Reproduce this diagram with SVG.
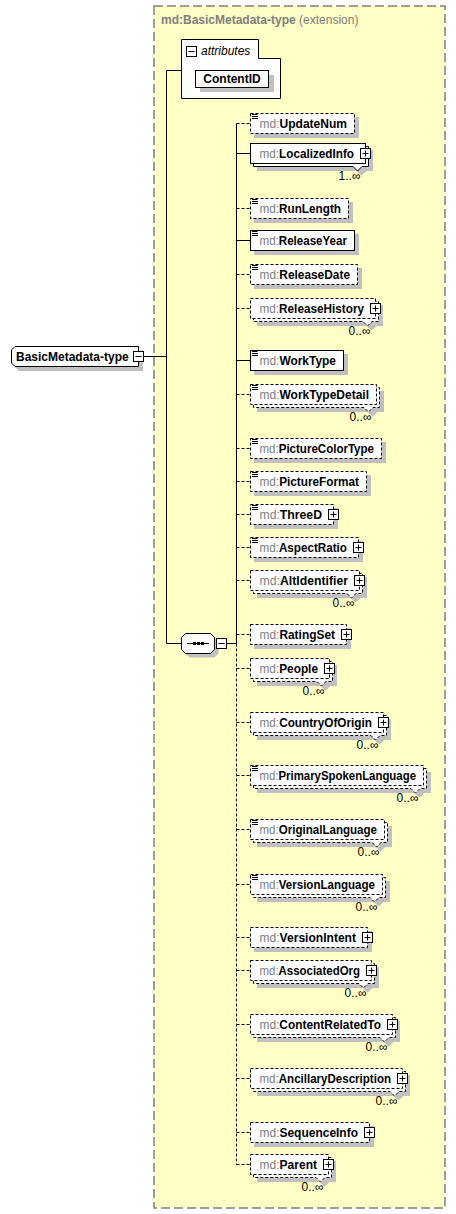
<svg xmlns="http://www.w3.org/2000/svg" xmlns:xlink="http://www.w3.org/1999/xlink" width="456" height="1214" viewBox="0 0 456 1214">
<style>
text{font-family:"Liberation Sans",Arial,sans-serif;font-size:12px;fill:#000}
.bx{fill:#fff;stroke:#000;stroke-width:1}
.d{stroke-dasharray:3 2}
.sh{fill:#c0c0c0;stroke:none}
.ns{fill:#808080}
.nm{font-weight:bold;fill:#000}
.cn path{stroke:#000;stroke-width:1;fill:none}
.cn .cd{stroke-dasharray:3 2}
.mu{text-anchor:end}
</style>
<defs>
<g id="ic"><path d="M1.5 1H7M1.5 3H7.5M1.5 5H7.5" stroke="#000" stroke-width="1" fill="none"/></g>
<g id="pl"><rect x="-5" y="-5" width="10" height="10" fill="#fff" stroke="#000"/><path d="M-3 0H3M0 -3V3" stroke="#000"/></g>
<g id="mi"><rect x="-5" y="-5" width="10" height="10" fill="#fff" stroke="#000"/><path d="M-3 0H3" stroke="#000"/></g>
</defs>

<g id="container">
<rect x="154" y="6" width="291" height="1202" fill="#ffffc6" stroke="#808080" stroke-width="1.5" stroke-dasharray="9 4"/>
<text x="161" y="24" style="fill:#808080"><tspan font-weight="bold">md:BasicMetadata-type</tspan> (extension)</text>
</g>

<g id="connectors" class="cn">
<path d="M143.5 356.5H166.5"/>
<path d="M166.5 70.5V643.5M166.5 70.5H181.5M166.5 643.5H181.5"/>
<path d="M226.5 643.5H236.5"/>
<path d="M236.5 123.5V643.5"/>
<path class="cd" d="M236.5 643.5V1164.5"/>
<path d="M236.5 153.5H250.5M236.5 240.5H250.5M236.5 360.5H250.5"/>
<path class="cd" d="M236.5 123.5H250.5M236.5 208.5H250.5M236.5 274.5H250.5M236.5 308.5H250.5M236.5 394.5H250.5M236.5 448.5H250.5M236.5 481.5H250.5M236.5 514.5H250.5M236.5 547.5H250.5M236.5 580.5H250.5M236.5 634.5H250.5M236.5 668.5H250.5M236.5 722.5H250.5M236.5 775.5H250.5M236.5 829.5H250.5M236.5 884.5H250.5M236.5 937.5H250.5M236.5 970.5H250.5M236.5 1024.5H250.5M236.5 1078.5H250.5M236.5 1132.5H250.5M236.5 1164.5H250.5"/>
</g>

<g id="root">
<polygon class="sh" points="19,350.5 143,350.5 143,371 19,371 15.5,367.5 15.5,354"/>
<polygon class="bx" points="15,346.5 138.5,346.5 138.5,366.5 15,366.5 11.5,363 11.5,350"/>
<text x="16" y="361" class="nm">BasicMetadata-type</text>
<use href="#mi" x="138.5" y="356.5"/>
</g>

<g id="attributes">
<polygon points="181.5,39.5 258.5,39.5 258.5,58.5 280.5,58.5 280.5,98.5 181.5,98.5" fill="#fff" stroke="#000"/>
<use href="#mi" x="191.5" y="51.5"/>
<text x="201" y="55" font-style="italic">attributes</text>
</g>

<g id="ContentID">
<rect class="sh" x="200" y="75" width="74" height="17"/>
<rect class="bx" x="195.5" y="70.5" width="73" height="17"/>
<text x="232" y="83" class="nm" text-anchor="middle">ContentID</text>
</g>

<g id="sequence">
<polygon class="sh" points="189.5,637.5 214.5,637.5 218.5,641.5 218.5,653.5 214.5,657.5 189.5,657.5 185.5,653.5 185.5,641.5"/>
<polygon class="bx" points="185.5,633.5 210.5,633.5 214.5,637.5 214.5,649.5 210.5,653.5 185.5,653.5 181.5,649.5 181.5,637.5"/>
<path d="M187 643.5H209" stroke="#000"/>
<rect x="193" y="642" width="3" height="3"/><rect x="197" y="642" width="3" height="3"/><rect x="201" y="642" width="3" height="3"/>
<use href="#mi" x="221.5" y="643.5"/>
</g>

<g id="UpdateNum" transform="translate(0 123.5)">
<rect class="sh" x="254" y="-6.5" width="105" height="21"/>
<rect class="bx d" x="250.5" y="-10" width="104" height="20"/>
<use href="#ic" x="250.5" y="-10"/>
<text x="259.5" y="4.5" textLength="87.5" lengthAdjust="spacingAndGlyphs"><tspan class="ns">md:</tspan><tspan class="nm">UpdateNum</tspan></text>
</g>

<g id="LocalizedInfo" transform="translate(0 153.5)">
<path class="sh" d="M257,-3.5H373V17.5H366.5L361.5,22L356.5,17.5H257Z"/>
<path class="bx" d="M253.5,-7H368.5V13H362L357.5,17.5L353,13H253.5Z"/>
<rect class="bx" x="250.5" y="-10" width="115" height="20"/>
<text x="259.5" y="4.5" textLength="94.5" lengthAdjust="spacingAndGlyphs"><tspan class="ns">md:</tspan><tspan class="nm">LocalizedInfo</tspan></text>
<use href="#pl" x="365.5" y="0"/>
<text class="mu" x="360.5" y="26.5">1..∞</text>
</g>

<g id="RunLength" transform="translate(0 208.5)">
<rect class="sh" x="254" y="-6.5" width="99" height="21"/>
<rect class="bx d" x="250.5" y="-10" width="98" height="20"/>
<use href="#ic" x="250.5" y="-10"/>
<text x="259.5" y="4.5" textLength="81.5" lengthAdjust="spacingAndGlyphs"><tspan class="ns">md:</tspan><tspan class="nm">RunLength</tspan></text>
</g>

<g id="ReleaseYear" transform="translate(0 240.5)">
<rect class="sh" x="254" y="-6.5" width="105" height="21"/>
<rect class="bx" x="250.5" y="-10" width="104" height="20"/>
<use href="#ic" x="250.5" y="-10"/>
<text x="259.5" y="4.5" textLength="87.5" lengthAdjust="spacingAndGlyphs"><tspan class="ns">md:</tspan><tspan class="nm">ReleaseYear</tspan></text>
</g>

<g id="ReleaseDate" transform="translate(0 274.5)">
<rect class="sh" x="254" y="-6.5" width="108" height="21"/>
<rect class="bx d" x="250.5" y="-10" width="107" height="20"/>
<use href="#ic" x="250.5" y="-10"/>
<text x="259.5" y="4.5" textLength="90.5" lengthAdjust="spacingAndGlyphs"><tspan class="ns">md:</tspan><tspan class="nm">ReleaseDate</tspan></text>
</g>

<g id="ReleaseHistory" transform="translate(0 308.5)">
<path class="sh" d="M257,-3.5H383V17.5H376.5L371.5,22L366.5,17.5H257Z"/>
<path class="bx d" d="M253.5,-7H378.5V13H372L367.5,17.5L363,13H253.5Z"/>
<rect class="bx d" x="250.5" y="-10" width="125" height="20"/>
<text x="259.5" y="4.5" textLength="104.5" lengthAdjust="spacingAndGlyphs"><tspan class="ns">md:</tspan><tspan class="nm">ReleaseHistory</tspan></text>
<use href="#pl" x="375.5" y="0"/>
<text class="mu" x="370.5" y="26.5">0..∞</text>
</g>

<g id="WorkType" transform="translate(0 360.5)">
<rect class="sh" x="254" y="-6.5" width="94" height="21"/>
<rect class="bx" x="250.5" y="-10" width="93" height="20"/>
<use href="#ic" x="250.5" y="-10"/>
<text x="259.5" y="4.5" textLength="76.5" lengthAdjust="spacingAndGlyphs"><tspan class="ns">md:</tspan><tspan class="nm">WorkType</tspan></text>
</g>

<g id="WorkTypeDetail" transform="translate(0 394.5)">
<path class="sh" d="M257,-3.5H384V17.5H377.5L372.5,22L367.5,17.5H257Z"/>
<path class="bx d" d="M253.5,-7H379.5V13H373L368.5,17.5L364,13H253.5Z"/>
<rect class="bx d" x="250.5" y="-10" width="126" height="20"/>
<use href="#ic" x="250.5" y="-10"/>
<text x="259.5" y="4.5" textLength="109.5" lengthAdjust="spacingAndGlyphs"><tspan class="ns">md:</tspan><tspan class="nm">WorkTypeDetail</tspan></text>
<text class="mu" x="371.5" y="26.5">0..∞</text>
</g>

<g id="PictureColorType" transform="translate(0 448.5)">
<rect class="sh" x="254" y="-6.5" width="132" height="21"/>
<rect class="bx d" x="250.5" y="-10" width="131" height="20"/>
<use href="#ic" x="250.5" y="-10"/>
<text x="259.5" y="4.5" textLength="114.5" lengthAdjust="spacingAndGlyphs"><tspan class="ns">md:</tspan><tspan class="nm">PictureColorType</tspan></text>
</g>

<g id="PictureFormat" transform="translate(0 481.5)">
<rect class="sh" x="254" y="-6.5" width="117" height="21"/>
<rect class="bx d" x="250.5" y="-10" width="116" height="20"/>
<use href="#ic" x="250.5" y="-10"/>
<text x="259.5" y="4.5" textLength="99.5" lengthAdjust="spacingAndGlyphs"><tspan class="ns">md:</tspan><tspan class="nm">PictureFormat</tspan></text>
</g>

<g id="ThreeD" transform="translate(0 514.5)">
<rect class="sh" x="254" y="-6.5" width="84" height="21"/>
<rect class="bx d" x="250.5" y="-10" width="83" height="20"/>
<use href="#ic" x="250.5" y="-10"/>
<text x="259.5" y="4.5" textLength="62.5" lengthAdjust="spacingAndGlyphs"><tspan class="ns">md:</tspan><tspan class="nm">ThreeD</tspan></text>
<use href="#pl" x="333.5" y="0"/>
</g>

<g id="AspectRatio" transform="translate(0 547.5)">
<rect class="sh" x="254" y="-6.5" width="109" height="21"/>
<rect class="bx d" x="250.5" y="-10" width="108" height="20"/>
<use href="#ic" x="250.5" y="-10"/>
<text x="259.5" y="4.5" textLength="87.5" lengthAdjust="spacingAndGlyphs"><tspan class="ns">md:</tspan><tspan class="nm">AspectRatio</tspan></text>
<use href="#pl" x="358.5" y="0"/>
</g>

<g id="AltIdentifier" transform="translate(0 580.5)">
<path class="sh" d="M257,-3.5H367V17.5H360.5L355.5,22L350.5,17.5H257Z"/>
<path class="bx d" d="M253.5,-7H362.5V13H356L351.5,17.5L347,13H253.5Z"/>
<rect class="bx d" x="250.5" y="-10" width="109" height="20"/>
<text x="259.5" y="4.5" textLength="88.5" lengthAdjust="spacingAndGlyphs"><tspan class="ns">md:</tspan><tspan class="nm">AltIdentifier</tspan></text>
<use href="#pl" x="359.5" y="0"/>
<text class="mu" x="354.5" y="26.5">0..∞</text>
</g>

<g id="RatingSet" transform="translate(0 634.5)">
<rect class="sh" x="254" y="-6.5" width="97" height="21"/>
<rect class="bx d" x="250.5" y="-10" width="96" height="20"/>
<text x="259.5" y="4.5" textLength="75.5" lengthAdjust="spacingAndGlyphs"><tspan class="ns">md:</tspan><tspan class="nm">RatingSet</tspan></text>
<use href="#pl" x="346.5" y="0"/>
</g>

<g id="People" transform="translate(0 668.5)">
<path class="sh" d="M257,-3.5H337V17.5H330.5L325.5,22L320.5,17.5H257Z"/>
<path class="bx d" d="M253.5,-7H332.5V13H326L321.5,17.5L317,13H253.5Z"/>
<rect class="bx d" x="250.5" y="-10" width="79" height="20"/>
<text x="259.5" y="4.5" textLength="58.5" lengthAdjust="spacingAndGlyphs"><tspan class="ns">md:</tspan><tspan class="nm">People</tspan></text>
<use href="#pl" x="329.5" y="0"/>
<text class="mu" x="324.5" y="26.5">0..∞</text>
</g>

<g id="CountryOfOrigin" transform="translate(0 722.5)">
<path class="sh" d="M257,-3.5H391V17.5H384.5L379.5,22L374.5,17.5H257Z"/>
<path class="bx d" d="M253.5,-7H386.5V13H380L375.5,17.5L371,13H253.5Z"/>
<rect class="bx d" x="250.5" y="-10" width="133" height="20"/>
<text x="259.5" y="4.5" textLength="112.5" lengthAdjust="spacingAndGlyphs"><tspan class="ns">md:</tspan><tspan class="nm">CountryOfOrigin</tspan></text>
<use href="#pl" x="383.5" y="0"/>
<text class="mu" x="378.5" y="26.5">0..∞</text>
</g>

<g id="PrimarySpokenLanguage" transform="translate(0 775.5)">
<path class="sh" d="M257,-3.5H431V17.5H424.5L419.5,22L414.5,17.5H257Z"/>
<path class="bx d" d="M253.5,-7H426.5V13H420L415.5,17.5L411,13H253.5Z"/>
<rect class="bx d" x="250.5" y="-10" width="173" height="20"/>
<use href="#ic" x="250.5" y="-10"/>
<text x="259.5" y="4.5" textLength="156.5" lengthAdjust="spacingAndGlyphs"><tspan class="ns">md:</tspan><tspan class="nm">PrimarySpokenLanguage</tspan></text>
<text class="mu" x="418.5" y="26.5">0..∞</text>
</g>

<g id="OriginalLanguage" transform="translate(0 829.5)">
<path class="sh" d="M257,-3.5H392V17.5H385.5L380.5,22L375.5,17.5H257Z"/>
<path class="bx d" d="M253.5,-7H387.5V13H381L376.5,17.5L372,13H253.5Z"/>
<rect class="bx d" x="250.5" y="-10" width="134" height="20"/>
<use href="#ic" x="250.5" y="-10"/>
<text x="259.5" y="4.5" textLength="117.5" lengthAdjust="spacingAndGlyphs"><tspan class="ns">md:</tspan><tspan class="nm">OriginalLanguage</tspan></text>
<text class="mu" x="379.5" y="26.5">0..∞</text>
</g>

<g id="VersionLanguage" transform="translate(0 884.5)">
<path class="sh" d="M257,-3.5H390V17.5H383.5L378.5,22L373.5,17.5H257Z"/>
<path class="bx d" d="M253.5,-7H385.5V13H379L374.5,17.5L370,13H253.5Z"/>
<rect class="bx d" x="250.5" y="-10" width="132" height="20"/>
<use href="#ic" x="250.5" y="-10"/>
<text x="259.5" y="4.5" textLength="115.5" lengthAdjust="spacingAndGlyphs"><tspan class="ns">md:</tspan><tspan class="nm">VersionLanguage</tspan></text>
<text class="mu" x="377.5" y="26.5">0..∞</text>
</g>

<g id="VersionIntent" transform="translate(0 937.5)">
<rect class="sh" x="254" y="-6.5" width="118" height="21"/>
<rect class="bx d" x="250.5" y="-10" width="117" height="20"/>
<text x="259.5" y="4.5" textLength="96.5" lengthAdjust="spacingAndGlyphs"><tspan class="ns">md:</tspan><tspan class="nm">VersionIntent</tspan></text>
<use href="#pl" x="367.5" y="0"/>
</g>

<g id="AssociatedOrg" transform="translate(0 970.5)">
<path class="sh" d="M257,-3.5H379V17.5H372.5L367.5,22L362.5,17.5H257Z"/>
<path class="bx d" d="M253.5,-7H374.5V13H368L363.5,17.5L359,13H253.5Z"/>
<rect class="bx d" x="250.5" y="-10" width="121" height="20"/>
<text x="259.5" y="4.5" textLength="100.5" lengthAdjust="spacingAndGlyphs"><tspan class="ns">md:</tspan><tspan class="nm">AssociatedOrg</tspan></text>
<use href="#pl" x="371.5" y="0"/>
<text class="mu" x="366.5" y="26.5">0..∞</text>
</g>

<g id="ContentRelatedTo" transform="translate(0 1024.5)">
<path class="sh" d="M257,-3.5H400V17.5H393.5L388.5,22L383.5,17.5H257Z"/>
<path class="bx d" d="M253.5,-7H395.5V13H389L384.5,17.5L380,13H253.5Z"/>
<rect class="bx d" x="250.5" y="-10" width="142" height="20"/>
<text x="259.5" y="4.5" textLength="121.5" lengthAdjust="spacingAndGlyphs"><tspan class="ns">md:</tspan><tspan class="nm">ContentRelatedTo</tspan></text>
<use href="#pl" x="392.5" y="0"/>
<text class="mu" x="387.5" y="26.5">0..∞</text>
</g>

<g id="AncillaryDescription" transform="translate(0 1078.5)">
<path class="sh" d="M257,-3.5H410V17.5H403.5L398.5,22L393.5,17.5H257Z"/>
<path class="bx d" d="M253.5,-7H405.5V13H399L394.5,17.5L390,13H253.5Z"/>
<rect class="bx d" x="250.5" y="-10" width="152" height="20"/>
<text x="259.5" y="4.5" textLength="131.5" lengthAdjust="spacingAndGlyphs"><tspan class="ns">md:</tspan><tspan class="nm">AncillaryDescription</tspan></text>
<use href="#pl" x="402.5" y="0"/>
<text class="mu" x="397.5" y="26.5">0..∞</text>
</g>

<g id="SequenceInfo" transform="translate(0 1132.5)">
<rect class="sh" x="254" y="-6.5" width="120" height="21"/>
<rect class="bx d" x="250.5" y="-10" width="119" height="20"/>
<text x="259.5" y="4.5" textLength="98.5" lengthAdjust="spacingAndGlyphs"><tspan class="ns">md:</tspan><tspan class="nm">SequenceInfo</tspan></text>
<use href="#pl" x="369.5" y="0"/>
</g>

<g id="Parent" transform="translate(0 1164.5)">
<path class="sh" d="M257,-3.5H336V17.5H329.5L324.5,22L319.5,17.5H257Z"/>
<path class="bx d" d="M253.5,-7H331.5V13H325L320.5,17.5L316,13H253.5Z"/>
<rect class="bx d" x="250.5" y="-10" width="78" height="20"/>
<text x="259.5" y="4.5" textLength="57.5" lengthAdjust="spacingAndGlyphs"><tspan class="ns">md:</tspan><tspan class="nm">Parent</tspan></text>
<use href="#pl" x="328.5" y="0"/>
<text class="mu" x="323.5" y="26.5">0..∞</text>
</g>
</svg>
